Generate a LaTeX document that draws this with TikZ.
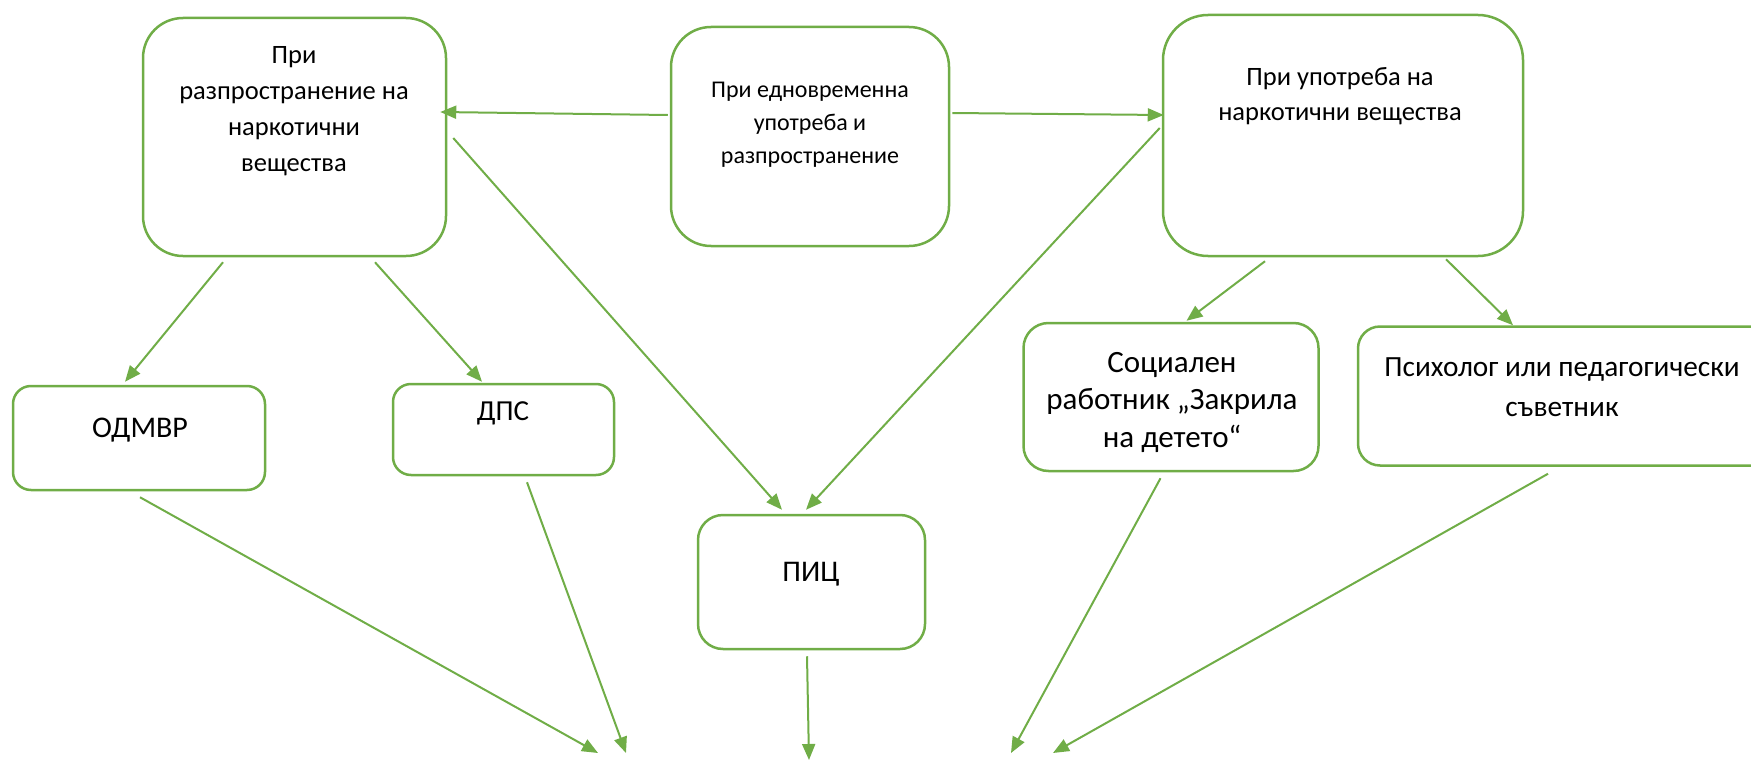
\documentclass[tikz,border=0pt]{standalone}
\usepackage{fontspec}
\setmainfont{Carlito}
\usetikzlibrary{arrows.meta,calc}
\definecolor{grn}{HTML}{70AD47}
\begin{document}
\begin{tikzpicture}[x=1pt,y=-1pt,
  box/.style={draw=grn,line width=2.5pt,rectangle,inner sep=0pt},
  txt/.style={align=center,inner sep=0pt,text=black},
  arr/.style={draw=grn,line width=2pt,-{Triangle[length=16pt,width=13pt]}}]
\useasboundingbox (0,0) rectangle (1751,760);
\clip (0,0) rectangle (1751,760);
% boxes
\node[box,rounded corners=40pt,minimum width=303pt,minimum height=238pt] (A) at (294.5,137) {};
\node[box,rounded corners=40pt,minimum width=278pt,minimum height=219pt] (B) at (810,136.5) {};
\node[box,rounded corners=45pt,minimum width=360pt,minimum height=241pt] (C) at (1343,135.5) {};
\node[box,rounded corners=18pt,minimum width=252pt,minimum height=104pt] (D) at (139,438) {};
\node[box,rounded corners=18pt,minimum width=221pt,minimum height=91pt] (E) at (503.5,429.5) {};
\node[box,rounded corners=25pt,minimum width=227pt,minimum height=134pt] (F) at (811.5,582) {};
\node[box,rounded corners=25pt,minimum width=295pt,minimum height=148pt] (G) at (1171,397) {};
\node[box,rounded corners=22pt,minimum width=420pt,minimum height=139pt] (H) at (1568,396) {};
% texts
\node[txt,font=\fontsize{26.5}{36}\selectfont] (tA) at (294,111) {При\\разпространение на\\наркотични\\вещества};
\node[txt,font=\fontsize{24}{33}\selectfont] (tB) at (810,125) {При едновременна\\употреба и\\разпространение};
\node[txt,font=\fontsize{26.5}{35}\selectfont] (tC) at (1340,96) {При употреба на\\наркотични вещества};
\node[txt,font=\fontsize{30}{36}\selectfont] (tD) at (140,430) {ОДМВР};
\node[txt,font=\fontsize{29}{36}\selectfont] (tE) at (503,413) {ДПС};
\node[txt,font=\fontsize{30}{36}\selectfont] (tF) at (811,574) {ПИЦ};
\node[txt,font=\fontsize{31}{37.5}\selectfont] (tG) at (1172,402) {Социален\\работник „Закрила\\на детето“};
\node[txt,font=\fontsize{29.3}{40}\selectfont] (tH) at (1562,387) {Психолог или педагогически\\съветник};
% free ends
\coordinate (oD) at (598,753);
\coordinate (oE) at (626,753);
\coordinate (oF) at (809,760);
\coordinate (oG) at (1011,753);
\coordinate (oH) at (1053,753);
% connectors
\draw[arr] ($(B.west)+(-2,-21.5)$) -- ($(A.east)+(-7,-25)$);
\draw[arr] ($(B.east)+(2,-23.5)$) -- ($(C.west)+(2,-20.5)$);
\draw[arr] ($(A.south)+(-71.5,5)$) -- ($(D.north)+(-14,-3)$);
\draw[arr] ($(A.south)+(80.5,5)$) -- ($(E.north)+(-21.5,-1)$);
\draw[arr] ($(A.east)+(6,1)$) -- ($(F.north)+(-29.5,-4)$);
\draw[arr] ($(C.west)+(-2,-7.5)$) -- ($(F.north)+(-5.5,-4)$);
\draw[arr] ($(C.south)+(-78,4)$) -- ($(G.north)+(15.5,-1)$);
\draw[arr] ($(C.south)+(103,2)$) -- ($(H.north)+(-55,0)$);
\draw[arr] ($(D.south)+(1,6)$) -- (oD);
\draw[arr] ($(E.south)+(23.5,6)$) -- (oE);
\draw[arr] ($(F.south)+(-4.5,6)$) -- (oF);
\draw[arr] ($(G.south)+(-10.5,6)$) -- (oG);
\draw[arr] ($(H.south)+(-20,7)$) -- (oH);
\end{tikzpicture}
\end{document}
